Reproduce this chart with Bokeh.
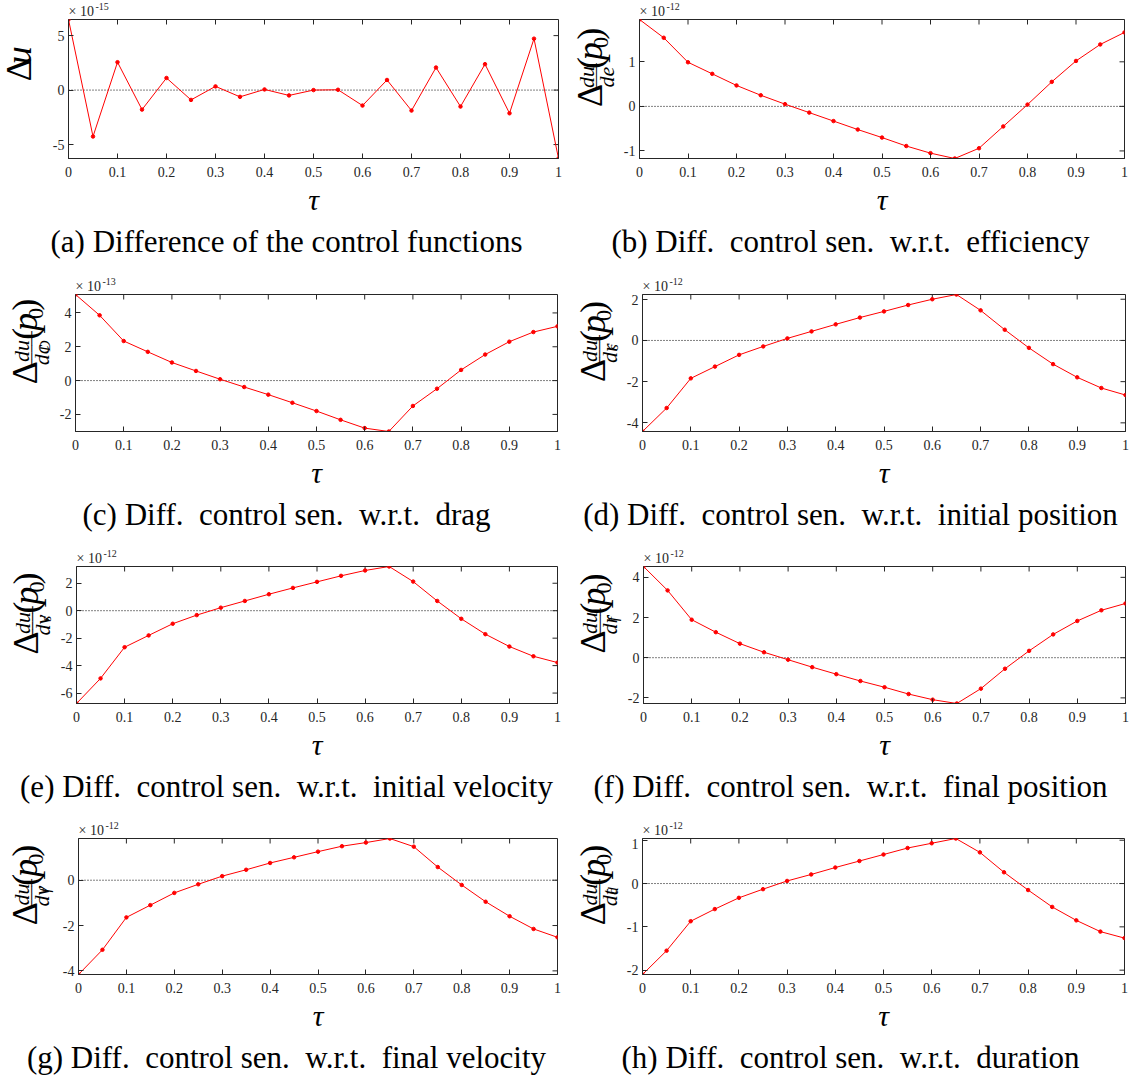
import math
from bokeh.plotting import figure
from bokeh.models import Range1d, FixedTicker, Span
from bokeh.core.properties import value
from bokeh.layouts import column, row
from bokeh.embed import file_html
from bokeh.resources import INLINE

# ---------------- data ----------------
tau = [0, 0.05, 0.1, 0.15, 0.2, 0.25, 0.3, 0.35, 0.4, 0.45, 0.5,
       0.55, 0.6, 0.65, 0.7, 0.75, 0.8, 0.85, 0.9, 0.95, 1]
x_ticks = [0, 0.1, 0.2, 0.3, 0.4, 0.5, 0.6, 0.7, 0.8, 0.9, 1]

# (a) x 1e-15
diff_u = [6.48, -4.26, 2.56, -1.79, 1.11, -0.90, 0.34, -0.62, 0.06, -0.49, 0.0,
          0.03, -1.42, 0.93, -1.88, 2.07, -1.51, 2.38, -2.13, 4.72, -6.28]
# (b) x 1e-12
diff_e = [1.95, 1.54, 0.99, 0.73, 0.47, 0.25, 0.05, -0.14, -0.33, -0.52, -0.70,
          -0.89, -1.05, -1.17, -0.94, -0.45, 0.04, 0.55, 1.02, 1.39, 1.66]
# (c) x 1e-13
diff_cD = [5.09, 3.86, 2.34, 1.70, 1.07, 0.57, 0.08, -0.38, -0.83, -1.31, -1.80,
           -2.32, -2.81, -3.01, -1.50, -0.48, 0.63, 1.54, 2.30, 2.87, 3.21]
# (d) x 1e-12
diff_rs = [-4.42, -3.28, -1.84, -1.27, -0.70, -0.29, 0.10, 0.44, 0.78, 1.11, 1.41,
           1.72, 2.00, 2.23, 1.46, 0.52, -0.36, -1.15, -1.79, -2.31, -2.65]
# (e) x 1e-12
diff_vs = [-6.76, -4.93, -2.66, -1.80, -0.95, -0.32, 0.22, 0.71, 1.20, 1.66, 2.10,
           2.54, 2.93, 3.22, 2.12, 0.71, -0.59, -1.71, -2.61, -3.32, -3.78]
# (f) x 1e-12
diff_rf = [4.54, 3.35, 1.89, 1.27, 0.70, 0.27, -0.10, -0.47, -0.82, -1.16, -1.47,
           -1.81, -2.09, -2.28, -1.54, -0.55, 0.34, 1.16, 1.83, 2.36, 2.70]
# (g) x 1e-12
diff_vf = [-4.16, -3.07, -1.64, -1.10, -0.56, -0.18, 0.18, 0.46, 0.76, 1.01, 1.26,
           1.50, 1.66, 1.84, 1.48, 0.58, -0.21, -0.95, -1.59, -2.15, -2.52]
# (h) x 1e-12
diff_td = [-2.10, -1.55, -0.87, -0.59, -0.33, -0.13, 0.06, 0.21, 0.37, 0.52, 0.67,
           0.82, 0.93, 1.04, 0.72, 0.26, -0.15, -0.54, -0.85, -1.11, -1.26]

y_ticks = {
    "a": [-5, 0, 5], "b": [-1, 0, 1], "c": [-2, 0, 2, 4], "d": [-4, -2, 0, 2],
    "e": [-6, -4, -2, 0, 2], "f": [-2, 0, 2, 4], "g": [-4, -2, 0], "h": [-2, -1, 0, 1],
}
exponents = {"a": "-15", "b": "-12", "c": "-13", "d": "-12",
             "e": "-12", "f": "-12", "g": "-12", "h": "-12"}
NB = "\u00a0"
captions = {
    "a": "(a) Difference of the control functions",
    "b": f"(b) Diff.{NB} control sen.{NB} w.r.t.{NB} efficiency",
    "c": f"(c) Diff.{NB} control sen.{NB} w.r.t.{NB} drag",
    "d": f"(d) Diff.{NB} control sen.{NB} w.r.t.{NB} initial position",
    "e": f"(e) Diff.{NB} control sen.{NB} w.r.t.{NB} initial velocity",
    "f": f"(f) Diff.{NB} control sen.{NB} w.r.t.{NB} final position",
    "g": f"(g) Diff.{NB} control sen.{NB} w.r.t.{NB} final velocity",
    "h": f"(h) Diff.{NB} control sen.{NB} w.r.t.{NB} duration",
}
denoms = {"b": ("de", ""), "c": ("dc", "D"), "d": ("dr", "s"), "e": ("dv", "s"),
          "f": ("dr", "f"), "g": ("dv", "f"), "h": ("dt", "d")}

# ---------------- styling ----------------
AX = "#262626"
SERIF = "Liberation Serif"
RED = "#ff0000"
MID = 0.3375      # em-box middle above the baseline (Liberation Serif)

WID = {"Δ": 0.612, "(": 0.333, ")": 0.333, "0": 0.5, "d": 0.5, "u": 0.5, "e": 0.444,
       "c": 0.444, "r": 0.389, "v": 0.444, "t": 0.278, "s": 0.389, "f": 0.278,
       "D": 0.722, "p": 0.5}

TICKAREA = 18     # main figure left border (tick labels)
BOTB = 66         # main figure bottom border (tick labels + tau)
TICKLEN = 5


def tw(s, size):
    return sum(WID.get(ch, 0.5) for ch in s) * size


def strip(w, h):
    s = figure(width=w, height=h, title=None, min_border=0, min_border_left=0,
               min_border_right=0, min_border_top=0, min_border_bottom=0,
               x_axis_location=None, y_axis_location=None,
               x_range=Range1d(0, w), y_range=Range1d(0, h),
               output_backend="svg", toolbar_location=None)
    s.grid.visible = False
    s.outline_line_color = None
    s.background_fill_color = "white"
    s.border_fill_color = "white"
    return s


def add_piece(s, txt, base_x, sy, size, style="normal", font=SERIF, is_bar=False):
    # base_x: x of the glyph baseline (text rotated to read upwards)
    ax_x = base_x if is_bar else base_x - MID * size
    s.text(x=[ax_x], y=[sy], text=[txt], angle=math.pi / 2,
           text_align=value("left"), text_baseline=value("middle"),
           text_font=value(font), text_font_size=value(f"{size}px"),
           text_font_style=value(style), text_color="black")


def ylabel_simple(s, H, bx, ybase):
    BIG = 36
    gap = 3
    total = tw("Δ", BIG) + gap + tw("u", BIG)
    y0 = ybase + (H - total) / 2
    add_piece(s, "Δ", bx, y0, BIG)
    add_piece(s, "u", bx, y0 + tw("Δ", BIG) + gap, BIG, "italic")


def ylabel_frac(s, H, bx, ybase, den, sub):
    BIG, FR, SB = 36, 22, 15
    pieces = []   # (txt, tx, ty, size, style, font, is_bar)
    tx = 0.0
    pieces.append(("Δ", tx, 0, BIG, "normal", SERIF, False))
    tx += tw("Δ", BIG) + 4
    num_w = tw("du", FR)
    den_base_w = tw(den, FR)
    den_w = den_base_w + (tw(sub, SB) if sub else 0)
    bar_w = max(num_w, den_w) + 4
    cx = tx + bar_w / 2
    pieces.append(("du", cx - num_w / 2, -9, FR, "italic", SERIF, False))
    dx = cx - den_w / 2
    pieces.append((den, dx, 11, FR, "italic", SERIF, False))
    if sub:
        pieces.append((sub, dx + den_base_w, 13, SB, "italic", SERIF, False))
    n = max(1, round(bar_w / (0.602 * 12)))
    bsize = bar_w / (0.602 * n)
    pieces.append(("─" * n, tx, -6, round(bsize, 1), "normal", "DejaVu Sans Mono", True))
    tx += bar_w + 4
    pieces.append(("(", tx, 0, BIG, "normal", SERIF, False))
    tx += tw("(", BIG) + 1
    pieces.append(("p", tx, 0, BIG, "italic", SERIF, False))
    tx += tw("p", BIG)
    pieces.append(("0", tx, 6, FR, "normal", SERIF, False))
    tx += tw("0", FR) + 1
    pieces.append((")", tx, 0, BIG, "normal", SERIF, False))
    tx += tw(")", BIG)
    y0 = ybase + (H - tx) / 2 - 4
    for txt, ptx, pty, size, style, font, isb in pieces:
        add_piece(s, txt, bx + pty, y0 + ptx, size, style, font, isb)


def make_main(key, vals, Wf, R, H):
    lo, hi = min(vals), max(vals)
    p = figure(frame_width=Wf, frame_height=H, title=None,
               min_border_left=TICKAREA, min_border_right=R,
               min_border_top=0, min_border_bottom=BOTB,
               x_range=Range1d(0, 1), y_range=Range1d(lo, hi),
               output_backend="svg", toolbar_location=None)
    p.grid.visible = False
    p.background_fill_color = "white"
    p.border_fill_color = "white"
    p.outline_line_color = AX
    p.outline_line_width = 1

    xt = FixedTicker(ticks=x_ticks)
    yt = FixedTicker(ticks=y_ticks[key])
    xover = {t: f"{t:g}" for t in x_ticks}
    yover = {t: str(t) for t in y_ticks[key]}

    for ax, tick, over in ((p.xaxis[0], xt, xover), (p.yaxis[0], yt, yover)):
        ax.ticker = tick
        ax.major_label_overrides = over
        ax.axis_line_color = AX
        ax.major_tick_line_color = AX
        ax.major_tick_in = TICKLEN
        ax.major_tick_out = 0
        ax.minor_tick_line_color = None
        ax.major_label_text_font = SERIF
        ax.major_label_text_font_size = "14px"
        ax.major_label_text_color = AX
    p.xaxis[0].major_label_standoff = 8
    p.yaxis[0].major_label_standoff = 4

    p.xaxis[0].axis_label = "τ"
    p.xaxis[0].axis_label_text_font = SERIF
    p.xaxis[0].axis_label_text_font_style = "italic"
    p.xaxis[0].axis_label_text_font_size = "30px"
    p.xaxis[0].axis_label_text_color = "black"
    p.xaxis[0].axis_label_standoff = 3

    # inward ticks on the top and right edges of the box
    dy = TICKLEN * (hi - lo) / H
    dx = TICKLEN * 1.0 / Wf
    p.segment(x0=x_ticks, y0=[hi] * len(x_ticks), x1=x_ticks, y1=[hi - dy] * len(x_ticks),
              line_color=AX, line_width=1)
    yt_in = [t for t in y_ticks[key] if lo <= t <= hi]
    p.segment(x0=[1] * len(yt_in), y0=yt_in, x1=[1 - dx] * len(yt_in), y1=yt_in,
              line_color=AX, line_width=1)

    p.add_layout(Span(location=0, dimension="width", line_color="black",
                      line_width=1, line_dash="1 2", level="underlay"))
    p.line(tau, vals, line_color=RED, line_width=1)
    p.scatter(tau, vals, size=3.5, color=RED)
    return p


def make_cell(key, L, Wf, R, T, H, B, bx, cap_x):
    cell_w = L + Wf + R
    main_h = H + BOTB
    # top strip: exponent multiplier
    top = strip(cell_w, T)
    top.text(x=[L + 1], y=[8.5], text=["× 10"], text_font=value(SERIF),
             text_font_size=value("14px"), text_color=AX,
             text_align=value("left"), text_baseline=value("middle"))
    top.text(x=[L + 28], y=[13], text=[exponents[key]], text_font=value(SERIF),
             text_font_size=value("10px"), text_color=AX,
             text_align=value("left"), text_baseline=value("middle"))
    # left strip: y label
    lw = L - TICKAREA
    left = strip(lw, main_h)
    sbx = lw + TICKAREA + bx
    if key == "a":
        ylabel_simple(left, H, sbx, BOTB)
    else:
        den, sub = denoms[key]
        ylabel_frac(left, H, sbx, BOTB, den, sub)
    main = make_main(key, series[key], Wf, R, H)
    # caption strip
    ch = B - BOTB
    cap = strip(cell_w, ch)
    cap.text(x=[cap_x], y=[ch - (83 - BOTB)], text=[captions[key]],
             text_font=value(SERIF), text_font_size=value("31px"), text_color="black",
             text_align=value("center"), text_baseline=value("middle"))
    return column(top, row(left, main), cap)


series = {"a": diff_u, "b": diff_e, "c": diff_cD, "d": diff_rs,
          "e": diff_vs, "f": diff_rf, "g": diff_vf, "h": diff_td}

rows_geo = [(19, 139, 114), (22, 137, 113), (22, 137, 113), (22, 136, 103)]
left_geo = {"a": (67, 490, 9), "c": (74, 482, 10), "e": (75, 481, 10), "g": (77, 479, 10)}
right_geo = {"b": (71, 485, 11), "d": (74, 483, 10), "f": (75, 482, 10), "h": (74, 482, 11)}
bxs = {"a": -36, "b": -36, "c": -37, "d": -36, "e": -37, "f": -37, "g": -40, "h": -36}

grid_rows = []
for (lk, rk), (T, H, B) in zip((("a", "b"), ("c", "d"), ("e", "f"), ("g", "h")), rows_geo):
    L, Wf, R = left_geo[lk]
    cl = make_cell(lk, L, Wf, R, T, H, B, bxs[lk], 286)
    L2, W2, R2 = right_geo[rk]
    cr = make_cell(rk, L2, W2, R2, T, H, B, bxs[rk], 283)
    grid_rows.append(row(cl, cr))

layout = column(*grid_rows)
open("out.html", "w").write(file_html(layout, INLINE))
